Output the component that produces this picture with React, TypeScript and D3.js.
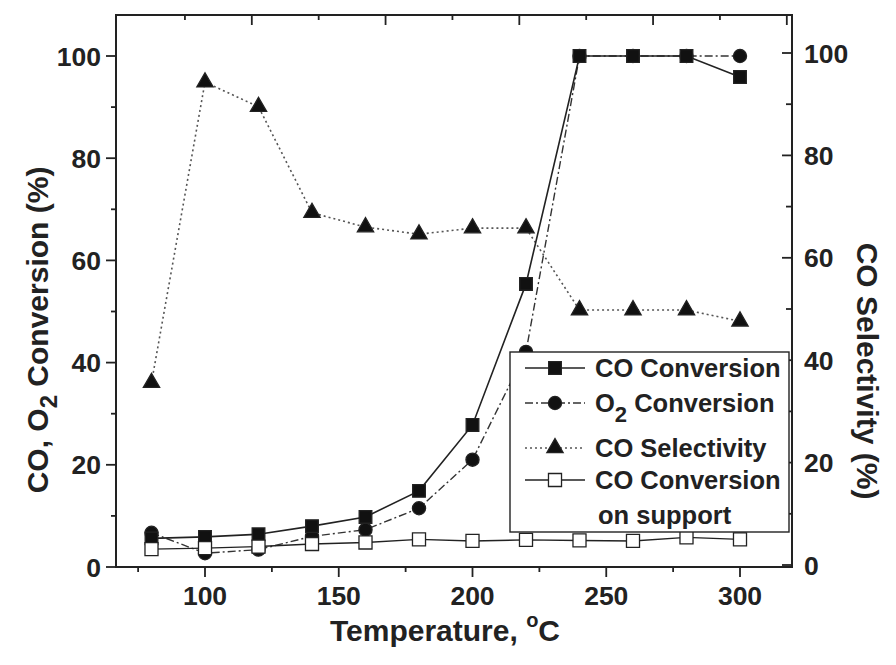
import React, { useEffect, useRef } from "react";
import * as d3 from "d3";

const temperature = [80, 100, 120, 140, 160, 180, 200, 220, 240, 260, 280, 300];
const coConversion = [5.6, 5.9, 6.4, 8.0, 9.8, 14.9, 27.8, 55.4, 100, 100, 100, 95.9];
const o2Conversion = [6.7, 2.7, 3.4, 6.0, 7.3, 11.5, 21.0, 42.1, 100, 100, 100, 100];
const coSelectivity = [35.6, 94.3, 89.5, 68.8, 66.0, 64.6, 65.8, 65.8, 49.8, 49.8, 49.8, 47.6];
const supportConversion = [3.5, 3.7, 4.0, 4.5, 4.8, 5.4, 5.1, 5.3, 5.2, 5.1, 5.8, 5.4];

const xTickLabels = [100, 150, 200, 250, 300];
const xMinorTicks = [75, 125, 175, 225, 275];
const yTickLabels = [0, 20, 40, 60, 80, 100];
const yMinorTicks = [10, 30, 50, 70, 90];

const FONT = "'Liberation Sans', Arial, sans-serif";

export default function App() {
    const svgRef = useRef(null);
    const width = 896;
    const height = 665;
    const box = { left: 116, right: 792, top: 15, bottom: 567 };

    useEffect(() => {
        const svg = d3.select(svgRef.current);
        svg.selectAll("*").remove();

        const x = d3.scaleLinear().domain([100, 300]).range([205, 740]);
        const yLeft = d3.scaleLinear().domain([0, 100]).range([567, 56]);
        const yRight = d3.scaleLinear().domain([0, 100]).range([565, 53]);
        // the top axis of the original plot is drawn offset from the bottom one
        const topShift = 17.5;

        svg.append("rect")
            .attr("width", width).attr("height", height).attr("fill", "#fff");

        // frame
        svg.append("rect")
            .attr("x", box.left).attr("y", box.top)
            .attr("width", box.right - box.left).attr("height", box.bottom - box.top)
            .attr("fill", "none").attr("stroke", "#222").attr("stroke-width", 2);

        const ticks = svg.append("g").attr("stroke", "#222").attr("stroke-width", 1.8);
        // bottom ticks (outward)
        xTickLabels.forEach(v => ticks.append("line")
            .attr("x1", x(v)).attr("x2", x(v)).attr("y1", box.bottom).attr("y2", box.bottom + 10));
        xMinorTicks.forEach(v => ticks.append("line")
            .attr("x1", x(v)).attr("x2", x(v)).attr("y1", box.bottom).attr("y2", box.bottom + 5));
        // top ticks (inward)
        xTickLabels.forEach(v => {
            const px = x(v + topShift);
            if (px < box.right) ticks.append("line")
                .attr("x1", px).attr("x2", px).attr("y1", box.top).attr("y2", box.top + 10);
        });
        xMinorTicks.forEach(v => {
            const px = x(v + topShift);
            if (px < box.right) ticks.append("line")
                .attr("x1", px).attr("x2", px).attr("y1", box.top).attr("y2", box.top + 5);
        });
        // left ticks (outward)
        yTickLabels.forEach(v => ticks.append("line")
            .attr("x1", box.left - 10).attr("x2", box.left).attr("y1", yLeft(v)).attr("y2", yLeft(v)));
        yMinorTicks.forEach(v => ticks.append("line")
            .attr("x1", box.left - 5).attr("x2", box.left).attr("y1", yLeft(v)).attr("y2", yLeft(v)));
        // right ticks (inward)
        yTickLabels.forEach(v => ticks.append("line")
            .attr("x1", box.right - 10).attr("x2", box.right).attr("y1", yRight(v)).attr("y2", yRight(v)));
        yMinorTicks.forEach(v => ticks.append("line")
            .attr("x1", box.right - 6).attr("x2", box.right).attr("y1", yRight(v)).attr("y2", yRight(v)));

        // tick labels
        const labels = svg.append("g")
            .attr("font-family", FONT).attr("font-size", 26.5).attr("font-weight", "bold").attr("fill", "#222");
        xTickLabels.forEach(v => labels.append("text")
            .attr("x", x(v)).attr("y", 605).attr("text-anchor", "middle").text(v));
        yTickLabels.forEach(v => labels.append("text")
            .attr("x", box.left - 15).attr("y", yLeft(v) + 9.5).attr("text-anchor", "end").text(v));
        yTickLabels.forEach(v => labels.append("text")
            .attr("x", box.right + 12).attr("y", yRight(v) + 9.5).attr("text-anchor", "start").text(v));

        // axis titles
        const xTitle = svg.append("text")
            .attr("font-family", FONT).attr("font-size", 30).attr("font-weight", "bold").attr("fill", "#222")
            .attr("x", 445).attr("y", 641).attr("text-anchor", "middle");
        xTitle.append("tspan").text("Temperature, ");
        xTitle.append("tspan").attr("font-size", 20).attr("dy", -14).text("o");
        xTitle.append("tspan").attr("dy", 14).text("C");

        const yTitle = svg.append("text")
            .attr("font-family", FONT).attr("font-size", 30).attr("font-weight", "bold").attr("fill", "#222")
            .attr("transform", "translate(48,330) rotate(-90)").attr("text-anchor", "middle");
        yTitle.append("tspan").text("CO, O");
        yTitle.append("tspan").attr("font-size", 24).attr("dy", 9).text("2");
        yTitle.append("tspan").attr("dy", -9).text(" Conversion (%)");

        svg.append("text")
            .attr("font-family", FONT).attr("font-size", 30).attr("font-weight", "bold").attr("fill", "#222")
            .attr("transform", "translate(857,371) rotate(90)").attr("text-anchor", "middle")
            .text("CO Selectivity (%)");

        const series = [
            { name: "sel", values: coSelectivity, y: yRight, dash: "2,3", stroke: "#555", width: 1.6,
              symbol: d3.symbolTriangle, size: 115, fill: "#111" },
            { name: "o2", values: o2Conversion, y: yLeft, dash: "8,3,2,3", stroke: "#333", width: 1.4,
              symbol: d3.symbolCircle, size: 135, fill: "#111" },
            { name: "co", values: coConversion, y: yLeft, dash: null, stroke: "#222", width: 1.6,
              symbol: d3.symbolSquare, size: 160, fill: "#111" },
            { name: "sup", values: supportConversion, y: yLeft, dash: null, stroke: "#222", width: 1.4,
              symbol: d3.symbolSquare, size: 170, fill: "#fff" },
        ];

        // lines first, then markers
        series.forEach(s => {
            const line = d3.line<number>()
                .x((_, i) => x(temperature[i]))
                .y(d => s.y(d));
            svg.append("path")
                .attr("d", line(s.values))
                .attr("fill", "none")
                .attr("stroke", s.stroke)
                .attr("stroke-width", s.width)
                .attr("stroke-dasharray", s.dash);
        });
        series.forEach(s => {
            svg.append("g").selectAll("path")
                .data(s.values)
                .join("path")
                .attr("transform", (d, i) => `translate(${x(temperature[i])},${s.y(d)})`)
                .attr("d", d3.symbol(s.symbol, s.size)())
                .attr("fill", s.fill)
                .attr("stroke", "#222")
                .attr("stroke-width", 1.3);
        });

        // legend
        const legend = svg.append("g");
        legend.append("rect")
            .attr("x", 510).attr("y", 352).attr("width", 279).attr("height", 180)
            .attr("fill", "#fff").attr("stroke", "#222").attr("stroke-width", 1.4);
        const rows = [
            { s: series[2], cy: 368, label: "CO Conversion" },
            { s: series[1], cy: 403, label: "O2 Conversion" },
            { s: series[0], cy: 448, label: "CO Selectivity" },
            { s: series[3], cy: 480, label: "CO Conversion" },
        ];
        rows.forEach(r => {
            legend.append("line")
                .attr("x1", 525).attr("x2", 585).attr("y1", r.cy).attr("y2", r.cy)
                .attr("stroke", r.s.stroke).attr("stroke-width", r.s.width)
                .attr("stroke-dasharray", r.s.dash);
            legend.append("path")
                .attr("transform", `translate(555,${r.cy})`)
                .attr("d", d3.symbol(r.s.symbol, r.s.size)())
                .attr("fill", r.s.fill).attr("stroke", "#222").attr("stroke-width", 1.3);
            const t = legend.append("text")
                .attr("font-family", FONT).attr("font-size", 25.5).attr("font-weight", "bold").attr("fill", "#222")
                .attr("x", 595).attr("y", r.cy + 9);
            if (r.label === "O2 Conversion") {
                t.append("tspan").text("O");
                t.append("tspan").attr("font-size", 22).attr("dy", 10).text("2");
                t.append("tspan").attr("dy", -10).text(" Conversion");
            } else {
                t.text(r.label);
            }
        });
        legend.append("text")
            .attr("font-family", FONT).attr("font-size", 25.5).attr("font-weight", "bold").attr("fill", "#222")
            .attr("x", 598).attr("y", 524).text("on support");
    }, []);

    return (
        <svg ref={svgRef} width={width} height={height}
            style={{ position: "absolute", left: 0, top: 0 }}>
        </svg>
    );
}
